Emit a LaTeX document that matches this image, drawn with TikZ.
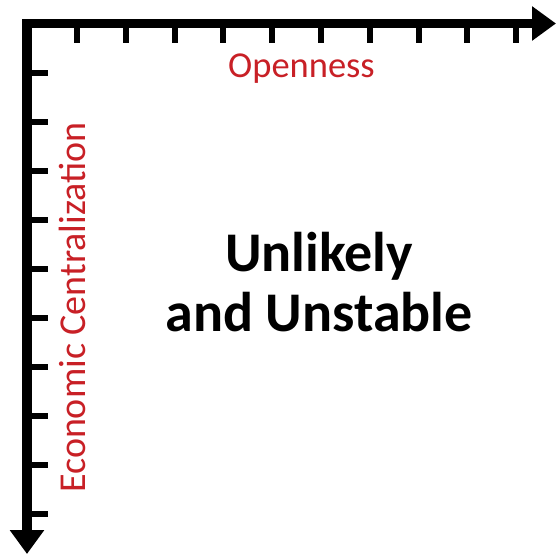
\documentclass[tikz,border=0pt]{standalone}
\usepackage{fontspec}
\setmainfont{Carlito}
\usepackage{xcolor}
\usepackage{tikz}
\usetikzlibrary{arrows.meta, positioning}
\definecolor{labelred}{RGB}{200,32,38}

\begin{document}
\begin{tikzpicture}[x=1pt, y=-1pt]
      \useasboundingbox (0,0) rectangle (556,554);
      \tikzset{
        axis/.style={line width=9.5pt, -{Triangle[length=24pt, width=33pt]}},
        tickmark/.style={line width=6pt},
        axislabel/.style={text=labelred, font=\fontsize{36.5}{40}\selectfont, inner sep=0pt}
      }

      \coordinate (xstart) at (22,23.5);
      \coordinate (xend) at (556,23.5);
      \coordinate (ystart) at (27,19);
      \coordinate (yend) at (27,554);

      \draw[axis] (xstart) -- (xend);
      \draw[axis] (ystart) -- (yend);

      % ticks
      \foreach \i in {0,...,9} {
        \draw[tickmark] (77+48.8*\i,27) -- (77+48.8*\i,43);
        \draw[tickmark] (31,72.5+49*\i) -- (48,72.5+49*\i);
      }

      \node[axislabel, anchor=base] (open) at (301.5,77) {Openness};
      \node[axislabel, anchor=base, rotate=90, font=\fontsize{38}{40}\selectfont] (centr) at (85,307.5) {Economic Centralization};

      \node[align=center, inner sep=0pt, font=\bfseries\fontsize{56}{60}\selectfont] (zone) at (319,282.5) {Unlikely\\and Unstable};
    \end{tikzpicture}
\end{document}
